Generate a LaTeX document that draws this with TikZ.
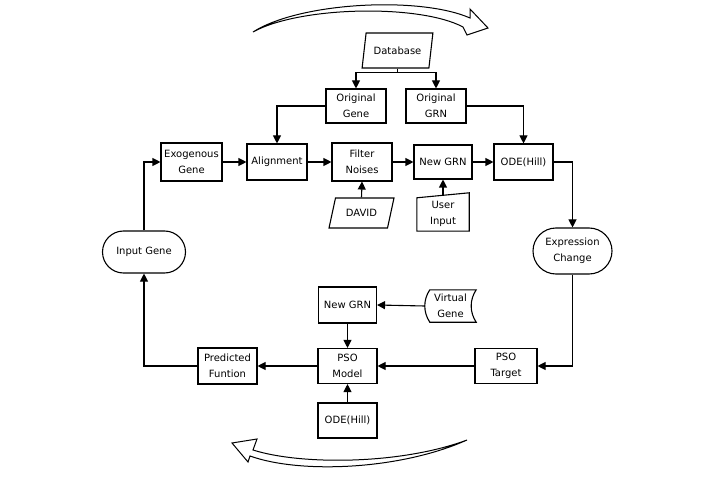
\documentclass[tikz,border=0pt]{standalone}
\usepackage{fontspec}
\setmainfont{DejaVu Sans}
\usetikzlibrary{shapes.geometric,shapes.misc,arrows.meta}
\begin{document}
\begin{tikzpicture}[x=1pt,y=-1pt,
  lw/.style={line width=1.1pt},
  txt/.style={align=center, inner sep=1pt, font=\fontsize{10}{16}\selectfont},
  box/.style={txt, lw, draw, rectangle, minimum width=60pt, minimum height=36pt},
  stadium/.style={txt, lw, draw, rounded rectangle},
  para/.style={txt, lw, draw, trapezium, trapezium stretches=true},
  ghost/.style={txt, rectangle},
  arr/.style={lw, -{Triangle[length=8pt,width=8pt]}},
  ln/.style={lw},
  bigarrow/.style={line width=1pt, fill=white, line join=miter}
]
\useasboundingbox (0,0) rectangle (720,481);

% top row
\node[para, trapezium left angle=72, trapezium right angle=108, minimum width=71pt, minimum height=35pt] (db) at (397.5,50.5) {Database};
\node[box, minimum height=34pt] (og) at (356,106) {Original\\Gene};
\node[box, minimum height=34pt] (ogrn) at (436,106) {Original\\GRN};

% second row
\node[box, minimum width=61pt, minimum height=38pt] (exo) at (191.5,162) {Exogenous\\Gene};
\node[box] (al) at (277,162) {Alignment};
\node[box, minimum height=38pt] (fn) at (362,162) {Filter\\Noises};
\node[box, minimum width=58pt, minimum height=34pt] (ng1) at (443,162) {New GRN};
\node[box, minimum width=59pt] (ode1) at (523.5,162) {ODE(Hill)};

\node[para, trapezium left angle=66, trapezium right angle=114, minimum width=65pt, minimum height=30pt] (david) at (361.5,213) {DAVID};
\node[ghost, minimum width=52pt, minimum height=38pt] (ui) at (443,212) {\\[-4pt]User\\Input};
\draw[ln] (ui.south west) -- ([yshift=-5pt]ui.north west) -- (ui.north east) -- (ui.south east) -- cycle;

\node[stadium, minimum width=85pt, minimum height=42pt] (ig) at (144,252) {Input Gene};
\node[stadium, minimum width=81pt, minimum height=46pt] (ec) at (572.5,251) {Expression\\Change};

% bottom
\node[box, minimum width=58pt] (ng2) at (347.5,305) {New GRN};
\node[ghost, minimum width=51pt, minimum height=32pt] (vg) at (450.5,306) {Virtual\\Gene};
\draw[ln] ([xshift=5pt]vg.north west) -- (vg.north east)
  .. controls ([xshift=-6.7pt,yshift=-10pt]vg.north east) and ([xshift=-6.7pt,yshift=10pt]vg.south east) .. (vg.south east)
  -- ([xshift=5pt]vg.south west)
  .. controls ([xshift=-1.7pt,yshift=10pt]vg.south west) and ([xshift=-1.7pt,yshift=-10pt]vg.north west) .. ([xshift=5pt]vg.north west) -- cycle;

\node[box, minimum width=59pt, minimum height=35pt] (psom) at (347.5,366) {PSO\\Model};
\node[box, minimum width=62pt, minimum height=35pt] (psot) at (506,366) {PSO\\Target};
\node[box, minimum width=59pt] (pf) at (227.5,366) {Predicted\\Funtion};
\node[box, minimum width=59pt, minimum height=35pt] (ode2) at (347.5,420.5) {ODE(Hill)};

% connectors
\draw[arr] (db.south) -- ++(0,4) -| (og.north);
\draw[arr] (db.south) -- ++(0,4) -| (ogrn.north);
\draw[arr] (og.west) -| (al.north);
\draw[arr] (ogrn.east) -| (ode1.north);
\draw[arr] (exo) -- (al);
\draw[arr] (al) -- (fn);
\draw[arr] (fn) -- (ng1);
\draw[arr] (ng1) -- (ode1);
\draw[arr] (david.north) -- (fn.south);
\draw[arr] ([yshift=-2.5pt]ui.north) -- (ng1.south);
\draw[arr] (ode1.east) -| (ec.north);
\draw[arr] (ec.south) |- (psot.east);
\draw[arr] (psot) -- (psom);
\draw[arr] (ng2) -- (psom);
\draw[arr] (vg.west) -- (ng2.east);
\draw[arr] (ode2) -- (psom);
\draw[arr] (psom) -- (pf);
\draw[arr] (pf.west) -| (ig.south);
\draw[arr] (ig.north) |- (exo.west);

% curved cycle arrows
\draw[bigarrow] (253,32) .. controls (300,2) and (420,-4) .. (470,18) -- (470,9) -- (488,28) -- (467,35) -- (463,27) .. controls (420,4) and (300,6) .. (253,32) -- cycle;
\draw[bigarrow] (467,440) .. controls (400,465) and (300,465) .. (253,450) -- (257,439) -- (232,443) -- (248,462) -- (250,456) .. controls (300,474) and (400,470) .. (467,440) -- cycle;
\end{tikzpicture}
\end{document}
